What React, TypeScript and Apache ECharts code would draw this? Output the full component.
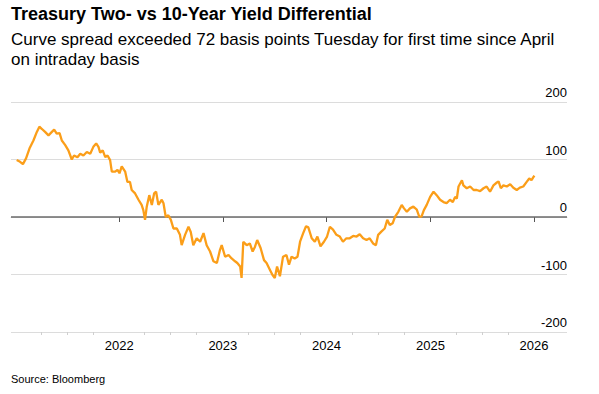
import React, { useEffect, useRef } from "react";
import * as echarts from "echarts";

const FONT = '"Liberation Sans", Arial, Helvetica, sans-serif';

const titleText = "Treasury Two- vs 10-Year Yield Differential";
const subtitleText = "Curve spread exceeded 72 basis points Tuesday for first time since April\non intraday basis";
const sourceText = "Source: Bloomberg";

const dates = [
  "2021-01-05","2021-01-17","2021-01-27","2021-02-07","2021-02-19","2021-03-05","2021-03-17","2021-03-26",
  "2021-04-04","2021-04-15","2021-04-27","2021-05-09","2021-05-17","2021-05-26","2021-06-05","2021-06-13",
  "2021-06-25","2021-07-06","2021-07-18","2021-07-26","2021-08-07","2021-08-17","2021-08-28","2021-09-09",
  "2021-09-21","2021-10-02","2021-10-12","2021-10-20","2021-10-26","2021-11-04","2021-11-13","2021-11-21",
  "2021-11-30","2021-12-06","2021-12-18","2021-12-26","2022-01-02","2022-01-10","2022-01-22","2022-01-30",
  "2022-02-08","2022-02-14","2022-02-26","2022-03-10","2022-03-21","2022-03-27","2022-04-02","2022-04-08",
  "2022-04-17","2022-04-26","2022-05-04","2022-05-11","2022-05-19","2022-05-31","2022-06-06","2022-06-14",
  "2022-06-23","2022-07-02","2022-07-11","2022-07-23","2022-08-03","2022-08-09","2022-08-21","2022-09-02",
  "2022-09-10","2022-09-19","2022-10-01","2022-10-13","2022-10-25","2022-11-05","2022-11-17","2022-11-29",
  "2022-12-11","2022-12-22","2022-12-28","2023-01-09","2023-01-21","2023-02-01","2023-02-13","2023-02-21",
  "2023-03-03","2023-03-08","2023-03-14","2023-03-26","2023-04-06","2023-04-16","2023-04-24","2023-05-02",
  "2023-05-14","2023-05-26","2023-06-04","2023-06-16","2023-06-25","2023-07-03","2023-07-11","2023-07-21",
  "2023-08-01","2023-08-13","2023-08-22","2023-08-31","2023-09-11","2023-09-21","2023-09-30","2023-10-11",
  "2023-10-21","2023-10-29","2023-11-10","2023-11-21","2023-11-30","2023-12-11","2023-12-23","2024-01-03",
  "2024-01-13","2024-01-24","2024-02-05","2024-02-17","2024-02-28","2024-03-11","2024-03-23","2024-04-04",
  "2024-04-16","2024-04-27","2024-05-09","2024-05-21","2024-06-01","2024-06-13","2024-06-23","2024-07-01",
  "2024-07-13","2024-07-24","2024-08-02","2024-08-11","2024-08-21","2024-08-29","2024-09-10","2024-09-22",
  "2024-09-30","2024-10-10","2024-10-21","2024-11-02","2024-11-14","2024-11-23","2024-12-01","2024-12-09",
  "2024-12-19","2024-12-31","2025-01-12","2025-01-23","2025-02-04","2025-02-16","2025-02-27","2025-03-11",
  "2025-03-21","2025-03-29","2025-04-04","2025-04-10","2025-04-22","2025-04-27","2025-05-09","2025-05-21",
  "2025-06-02","2025-06-13","2025-06-25","2025-07-07","2025-07-18","2025-07-30","2025-08-11","2025-08-23",
  "2025-08-29","2025-09-06","2025-09-15","2025-09-27","2025-10-09","2025-10-20","2025-11-01","2025-11-12",
  "2025-11-24","2025-12-06","2025-12-15","2025-12-23","2026-01-02"
];

const spread = [
  99, 96, 92, 102, 119, 133, 148, 157,
  153, 148, 142, 148, 152, 145, 146, 133,
  125, 116, 100, 107, 104, 110, 107, 113,
  110, 122, 128, 122, 112, 116, 104, 107,
  99, 79, 79, 82, 76, 88, 79, 61,
  61, 47, 41, 30, 21, 12, -5, 18,
  38, 21, 41, 44, 21, 30, 24, 0,
  3, -5, -20, -20, -31, -49, -31, -17,
  -26, -49, -37, -43, -28, -49, -60, -77,
  -80, -57, -49, -69, -66, -72, -77, -80,
  -86, -106, -43, -49, -46, -60, -52, -40,
  -54, -75, -80, -92, -101, -106, -86, -103,
  -69, -66, -83, -69, -72, -69, -43, -28,
  -16, -18, -37, -43, -34, -51, -43, -34,
  -17, -22, -31, -34, -43, -37, -37, -33,
  -34, -30, -37, -40, -37, -46, -49, -31,
  -25, -20, -5, -14, -11, 0, 9, 21,
  15, 9, 15, 18, 13, 0, 1, 12,
  21, 35, 44, 38, 30, 26, 24, 30,
  26, 35, 32, 53, 64, 55, 50, 53,
  47, 47, 45, 50, 53, 44, 55, 60,
  62, 50, 55, 53, 57, 51, 47, 51,
  53, 61, 67, 64, 72
];

const yearTicks = ["2022-01-01", "2023-01-01", "2024-01-01", "2025-01-01", "2026-01-01"];
const quarterTicks = [
  "2021-04-01","2021-07-01","2021-10-01",
  "2022-04-01","2022-07-01","2022-10-01",
  "2023-04-01","2023-07-01","2023-10-01",
  "2024-04-01","2024-07-01","2024-10-01",
  "2025-04-01","2025-07-01","2025-10-01"
];
const xMin = "2020-12-16";
const xMax = "2026-04-27";
const yMin = -200;
const yMax = 200;
const yStep = 100;
const zeroLine = 0;

const ts = (d: string) => new Date(d + "T00:00:00").getTime();

export default function App() {
  const ref = useRef<HTMLDivElement>(null);
  useEffect(() => {
    document.body.style.margin = "0";
    const chart = echarts.init(ref.current!, null, { renderer: "svg" });
    const majorTs = yearTicks.map(ts);
    const minorTs = quarterTicks.map(ts);
    chart.setOption({
      animation: false,
      backgroundColor: "#ffffff",
      textStyle: { fontFamily: FONT },
      grid: { left: 11, right: 32, top: 102, bottom: 62, containLabel: false, outerBoundsMode: "none" },
      graphic: [
        {
          type: "text", x: 11, y: 13.5,
          style: { text: titleText, font: `bold 18px ${FONT}`, fill: "#000", verticalAlign: "middle" },
        },
        {
          type: "text", x: 11, y: 29,
          style: { text: subtitleText, font: `17px ${FONT}`, lineHeight: 20, fill: "#000", verticalAlign: "top" },
        },
        {
          type: "text", x: 11, y: 378.5,
          style: { text: sourceText, font: `11px ${FONT}`, fill: "#000", verticalAlign: "middle" },
        },
      ],
      xAxis: [
        {
          type: "value", min: ts(xMin), max: ts(xMax), position: "bottom",
          axisLine: { show: true, lineStyle: { color: "#d9d9d9", width: 1 } },
          axisTick: { show: true, customValues: majorTs, length: 5, lineStyle: { color: "#555", width: 1 } },
          axisLabel: {
            customValues: majorTs, fontSize: 13, color: "#000", margin: 7, fontFamily: FONT,
            formatter: (v: number) => String(new Date(v + 43200000).getFullYear()),
          },
          splitLine: { show: false },
        },
        {
          type: "value", min: ts(xMin), max: ts(xMax), position: "bottom",
          axisLine: { show: false },
          axisTick: { show: true, customValues: minorTs, length: 3, lineStyle: { color: "#cfcfcf", width: 1 } },
          axisLabel: { show: false },
          splitLine: { show: false },
        },
      ],
      yAxis: {
        type: "value", min: yMin, max: yMax, interval: yStep, position: "right",
        axisLine: { show: false }, axisTick: { show: false },
        axisLabel: {
          inside: true, margin: 0, fontSize: 13, color: "#000", fontFamily: FONT,
          verticalAlign: "bottom", padding: [0, 0, 3, 0],
        },
        splitLine: { lineStyle: { color: "#dcdcdc", width: 1 } },
      },
      series: [
        {
          type: "line", xAxisIndex: 0, z: 1, data: [],
          markLine: {
            silent: true, symbol: "none", z: 1, zlevel: 0, label: { show: false },
            lineStyle: { color: "#6b6b6b", width: 1.5, type: "solid" },
            data: [{ yAxis: zeroLine }],
          },
        },
        {
          type: "line", xAxisIndex: 0, z: 10,
          data: dates.map((d, i) => [ts(d), spread[i]]),
          showSymbol: false, symbol: "none",
          lineStyle: { color: "#fb9e19", width: 2.3 },
        },
      ],
    });
    return () => chart.dispose();
  }, []);
  return <div ref={ref} style={{ width: 599, height: 394 }} />;
}
